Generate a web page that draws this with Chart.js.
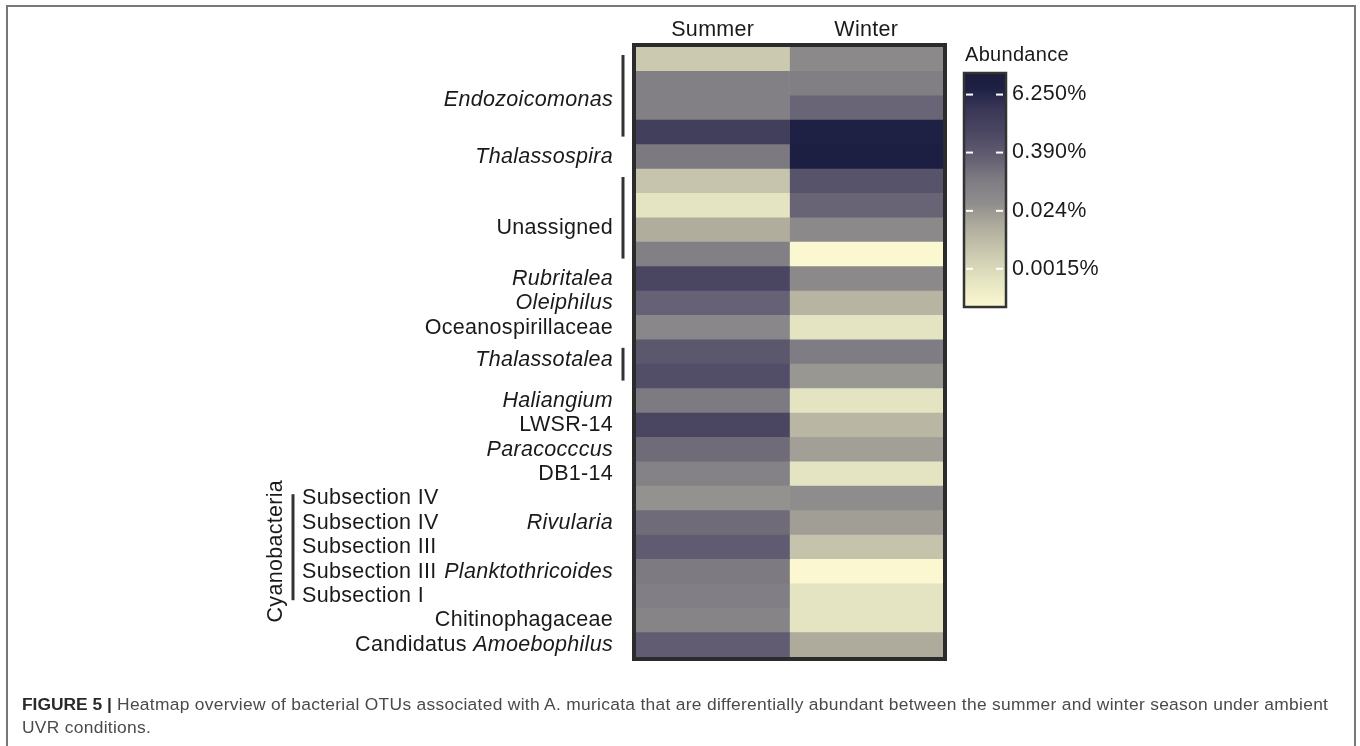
<!DOCTYPE html>
<html>
<head>
<meta charset="utf-8">
<script src="https://cdn.jsdelivr.net/npm/chart.js@4.4.0/dist/chart.umd.min.js"></script>
<style>
  html, body { margin: 0; padding: 0; background: #fff; }
  #wrap { position: relative; width: 1360px; height: 746px; overflow: hidden; background: #fff; }
  #frame { position: absolute; left: 6px; top: 5px; width: 1346px; height: 800px; border: 2px solid #777; }
  #caption { position: absolute; left: 22px; top: 693px; font: 17.4px "Liberation Sans", Arial, sans-serif;
             letter-spacing: 0.3px; line-height: 23px; color: #4a4a4a; white-space: nowrap; }
  #caption b { color: #2a2a2a; letter-spacing: 0; }
  canvas { position: absolute; left: 0; top: 0; }
</style>
</head>
<body>
<div id="wrap">
  <div id="frame"></div>
  <canvas id="heatmap" width="1360" height="746"></canvas>
  <div id="caption"><b>FIGURE 5 |</b> Heatmap overview of bacterial OTUs associated with A. muricata that are differentially abundant between the summer and winter season under ambient<br>UVR conditions.</div>
</div>
<script>
// columns of the heatmap
const seasons = ['Summer', 'Winter'];

// one entry per OTU row, top to bottom
const otuTaxa = [
  'Endozoicomonas', 'Endozoicomonas', 'Endozoicomonas', 'Endozoicomonas',
  'Thalassospira',
  'Unassigned', 'Unassigned', 'Unassigned', 'Unassigned',
  'Rubritalea', 'Oleiphilus', 'Oceanospirillaceae',
  'Thalassotalea', 'Thalassotalea',
  'Haliangium', 'LWSR-14', 'Paracocccus', 'DB1-14',
  '', 'Rivularia', '', 'Planktothricoides', '',
  'Chitinophagaceae', 'Candidatus Amoebophilus'
];
const cyanoSubsection = [
  '', '', '', '', '', '', '', '', '', '', '', '', '', '', '', '', '', '',
  'Subsection IV', 'Subsection IV', 'Subsection III', 'Subsection III', 'Subsection I',
  '', ''
];
const italicNames = ['Endozoicomonas', 'Thalassospira', 'Rubritalea', 'Oleiphilus', 'Thalassotalea',
  'Haliangium', 'Paracocccus', 'Rivularia', 'Planktothricoides', 'Amoebophilus'];

// relative abundance (%)
const summerAbundance = [
  0.003, 0.08, 0.08, 1.8, 0.12,
  0.0039, 0.0009, 0.011, 0.08,
  1.1, 0.28, 0.05,
  0.45, 0.7,
  0.115, 1.1, 0.2, 0.07,
  0.03, 0.2, 0.35, 0.115, 0.085,
  0.06, 0.34
];
const winterAbundance = [
  0.045, 0.09, 0.25, 8.4, 11.7,
  0.55, 0.26, 0.045, 0.00025,
  0.045, 0.008, 0.0009,
  0.1, 0.025,
  0.0009, 0.007, 0.018, 0.0009,
  0.037, 0.019, 0.004, 0.00025, 0.0009,
  0.0009, 0.012
];

// colour bar
const legendTicks = [6.25, 0.39, 0.024, 0.0015];
const legendTickLabels = ['6.250%', '0.390%', '0.024%', '0.0015%'];
const scaleMin = 0.00023, scaleMax = 18.4;
const colourStops = [
  [0.00, '#fdf8d2'], [0.12, '#e4e4c2'], [0.25, '#c6c4ac'], [0.35, '#aeab9c'],
  [0.45, '#8e8c8c'], [0.55, '#7d7a82'], [0.65, '#605b70'], [0.75, '#4a4662'],
  [0.85, '#383556'], [0.93, '#1e2044'], [1.00, '#1a1d3c']
];

function toT(v) {
  const t = (Math.log(v) - Math.log(scaleMin)) / (Math.log(scaleMax) - Math.log(scaleMin));
  return Math.max(0, Math.min(1, t));
}
function rgb(h) { return [1, 3, 5].map(i => parseInt(h.slice(i, i + 2), 16)); }
function colourFor(v) {
  const t = toT(v);
  for (let i = 1; i < colourStops.length; i++) {
    const [t1, c1] = colourStops[i];
    if (t <= t1) {
      const [t0, c0] = colourStops[i - 1];
      const f = (t - t0) / (t1 - t0);
      const a = rgb(c0), b = rgb(c1);
      return 'rgb(' + a.map((x, k) => Math.round(x + (b[k] - x) * f)).join(',') + ')';
    }
  }
  return colourStops[colourStops.length - 1][1];
}

// small vertical nudges of group labels (in rows)
const labelNudge = { Endozoicomonas: 0.17, Unassigned: 0.42, Thalassotalea: -0.17 };
const FONT = '"Liberation Sans", Arial, sans-serif';
const SIZE = '21.5px ';

function drawRich(ctx, text, xRight, y) {
  const words = text.split(' ');
  const fonts = words.map(w => (italicNames.includes(w) ? 'italic ' : '') + SIZE + FONT);
  ctx.font = SIZE + FONT;
  const space = ctx.measureText(' ').width;
  const widths = words.map((w, i) => { ctx.font = fonts[i]; return ctx.measureText(w).width; });
  let x = xRight - widths.reduce((s, w) => s + w, 0) - space * (words.length - 1);
  ctx.textAlign = 'left';
  words.forEach((w, i) => { ctx.font = fonts[i]; ctx.fillText(w, x, y); x += widths[i] + space; });
}

const decor = {
  id: 'decor',
  afterDatasetsDraw(chart) {
    const { ctx, chartArea: a, scales: { x, y } } = chart;
    const band = a.height / otuTaxa.length;
    const top = i => y.getPixelForValue(i) - band / 2;
    const bottom = i => y.getPixelForValue(i) + band / 2;
    ctx.save();
    ctx.textBaseline = 'middle';
    ctx.fillStyle = '#1a1a1a';
    ctx.letterSpacing = '0.3px';

    // heatmap frame
    ctx.strokeStyle = '#2b2b2b';
    ctx.lineWidth = 4;
    ctx.strokeRect(a.left - 2, a.top - 2, a.width + 4, a.height + 4);

    // column headers
    ctx.font = SIZE + FONT;
    ctx.textAlign = 'center';
    seasons.forEach((s, i) => ctx.fillText(s, x.getPixelForValue(i + 0.5), a.top - 17));

    // row labels, grouping repeated taxa with a bracket
    ctx.strokeStyle = '#333';
    ctx.lineWidth = 3;
    for (let i = 0; i < otuTaxa.length; i++) {
      const name = otuTaxa[i];
      let j = i;
      while (j + 1 < otuTaxa.length && otuTaxa[j + 1] === name) j++;
      if (name) {
        if (j > i) {
          ctx.beginPath();
          ctx.moveTo(a.left - 13, top(i) + 8);
          ctx.lineTo(a.left - 13, bottom(j) - 8);
          ctx.stroke();
        }
        const yc = (y.getPixelForValue(i) + y.getPixelForValue(j)) / 2 + (labelNudge[name] || 0) * band;
        drawRich(ctx, name, a.left - 23, yc);
      }
      i = j;
    }

    // cyanobacteria subsections
    const cy = cyanoSubsection.map((s, i) => s ? i : -1).filter(i => i >= 0);
    ctx.font = SIZE + FONT;
    ctx.textAlign = 'left';
    cy.forEach(i => ctx.fillText(cyanoSubsection[i], a.left - 334, y.getPixelForValue(i)));
    const c0 = cy[0], c1 = cy[cy.length - 1];
    ctx.beginPath();
    ctx.moveTo(a.left - 343, top(c0) + 8);
    ctx.lineTo(a.left - 343, bottom(c1) - 8);
    ctx.stroke();
    ctx.save();
    ctx.translate(a.left - 360, (top(c0) + bottom(c1)) / 2 + 4);
    ctx.rotate(-Math.PI / 2);
    ctx.textAlign = 'center';
    ctx.fillText('Cyanobacteria', 0, 0);
    ctx.restore();

    // colour bar legend
    const bl = a.right + 20, bw = 44, bt = a.top + 25, bh = 236;
    const grad = ctx.createLinearGradient(0, bt + bh, 0, bt);
    colourStops.forEach(([t, c]) => grad.addColorStop(t, c));
    ctx.fillStyle = grad;
    ctx.fillRect(bl, bt, bw, bh);
    ctx.strokeStyle = '#333';
    ctx.lineWidth = 2.5;
    ctx.strokeRect(bl + 1, bt + 1, bw - 2, bh - 2);
    ctx.font = SIZE + FONT;
    ctx.textAlign = 'left';
    legendTicks.forEach((v, k) => {
      const ty = bt + bh - toT(v) * bh;
      ctx.fillStyle = '#fff';
      ctx.fillRect(bl + 3, ty - 1, 7, 2);
      ctx.fillRect(bl + bw - 11, ty - 1, 7, 2);
      ctx.fillStyle = '#1a1a1a';
      ctx.fillText(legendTickLabels[k], bl + bw + 5, ty);
    });
    ctx.font = '20px ' + FONT;
    ctx.fillText('Abundance', bl + 2, a.top + 8);
    ctx.restore();
  }
};

new Chart(document.getElementById('heatmap'), {
  type: 'bar',
  data: {
    labels: otuTaxa.map((t, i) => String(i)),
    datasets: [
      { label: seasons[0], data: summerAbundance.map(() => 1), backgroundColor: summerAbundance.map(colourFor) },
      { label: seasons[1], data: winterAbundance.map(() => 1), backgroundColor: winterAbundance.map(colourFor) }
    ]
  },
  options: {
    indexAxis: 'y',
    responsive: false,
    animation: false,
    layout: { padding: { left: 636, right: 417, top: 47, bottom: 89 } },
    datasets: { bar: { barPercentage: 1, categoryPercentage: 1, borderWidth: 0 } },
    scales: {
      x: { type: 'linear', stacked: true, min: 0, max: seasons.length, display: false },
      y: { type: 'category', stacked: true, display: false }
    },
    plugins: { legend: { display: false }, tooltip: { enabled: false } }
  },
  plugins: [decor]
});
</script>
</body>
</html>
